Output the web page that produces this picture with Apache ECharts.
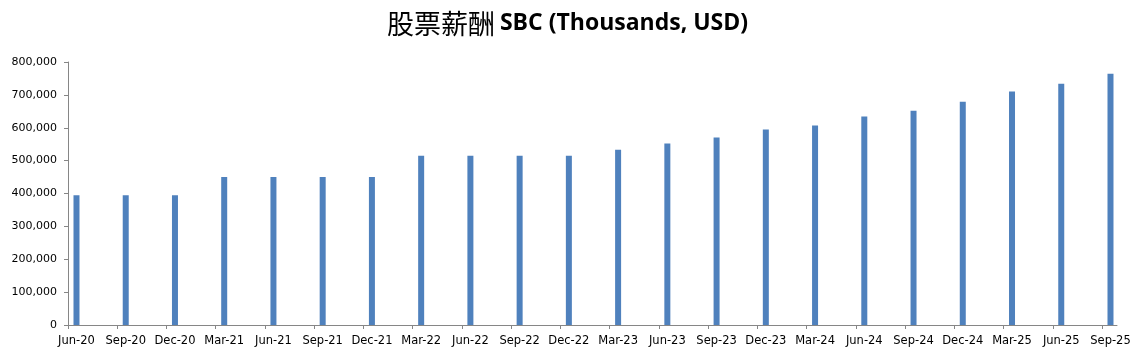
<!DOCTYPE html>
<html>
<head>
<meta charset="utf-8">
<script src="https://cdn.jsdelivr.net/npm/echarts@6/dist/echarts.min.js"></script>
<style>
html,body{margin:0;padding:0;background:#fff;}
#c{width:1135px;height:359px;}
</style>
</head>
<body>
<div id="c"></div>
<script>
const categories = ['Jun-20','Sep-20','Dec-20','Mar-21','Jun-21','Sep-21','Dec-21','Mar-22','Jun-22','Sep-22','Dec-22','Mar-23','Jun-23','Sep-23','Dec-23','Mar-24','Jun-24','Sep-24','Dec-24','Mar-25','Jun-25','Sep-25'];
const sbcValues = [395000,395000,395000,450000,450000,450000,450000,515000,515000,515000,515000,533000,552000,570000,595000,607000,634000,652000,679000,710000,734000,764000];
const yTicks = { min: 0, max: 800000, interval: 100000 };
const titleCJK = '股票薪酬';
const titleEN = 'SBC (Thousands, USD)';

const chart = echarts.init(document.getElementById('c'), null, {renderer:'canvas'});
const axisColor = '#868686';
const labelColor = '#000000';
const fmt = v => String(v).replace(/\B(?=(\d{3})+(?!\d))/g, ',');

chart.setOption({
  animation: false,
  backgroundColor: '#ffffff',
  title: {
    text: '{cjk|' + titleCJK + '} {en|' + titleEN + '}',
    left: 'center',
    top: 5,
    textStyle: {
      rich: {
        cjk: { fontFamily: 'Noto Sans CJK SC', fontSize: 27, fontWeight: 'normal', color: '#000' },
        en: { fontFamily: 'Open Sans', fontSize: 23, fontWeight: 'bold', color: '#000' }
      }
    }
  },
  grid: [
    { left: 68, right: 33, top: 62, bottom: 34, containLabel: false },
    { left: 68, right: 18, top: 62, bottom: 34, containLabel: false }
  ],
  xAxis: [
    {
      type: 'category',
      gridIndex: 0,
      data: categories,
      boundaryGap: false,
      axisLine: { show: true, lineStyle: { color: axisColor, width: 1 } },
      axisTick: { show: true, length: 4, lineStyle: { color: axisColor } },
      axisLabel: {
        color: labelColor,
        fontFamily: 'DejaVu Sans',
        fontSize: 11.5,
        margin: 10,
        interval: 0,
        padding: [0, 0, 0, 17]
      },
      splitLine: { show: false }
    },
    {
      type: 'value',
      gridIndex: 1,
      min: 0, max: 1,
      axisLine: { show: true, lineStyle: { color: axisColor, width: 1 } },
      axisTick: { show: false },
      axisLabel: { show: false },
      splitLine: { show: false }
    }
  ],
  yAxis: [
    {
      type: 'value',
      gridIndex: 0,
      min: yTicks.min,
      max: yTicks.max,
      interval: yTicks.interval,
      axisLine: { show: true, lineStyle: { color: axisColor, width: 1 } },
      axisTick: { show: true, length: 4, lineStyle: { color: axisColor } },
      axisLabel: {
        color: labelColor,
        fontFamily: 'DejaVu Sans',
        fontSize: 11,
        margin: 11,
        formatter: v => fmt(v)
      },
      splitLine: { show: false }
    },
    {
      type: 'value',
      gridIndex: 1,
      show: false
    }
  ],
  series: [
    {
      type: 'bar',
      xAxisIndex: 0, yAxisIndex: 0,
      data: [],
      barWidth: 6,
      barGap: '183%',
      silent: true
    },
    {
      type: 'bar',
      name: 'SBC',
      xAxisIndex: 0, yAxisIndex: 0,
      data: sbcValues,
      barWidth: 6,
      barGap: '183%',
      itemStyle: { color: '#4F81BD' }
    }
  ]
});
</script>
</body>
</html>
